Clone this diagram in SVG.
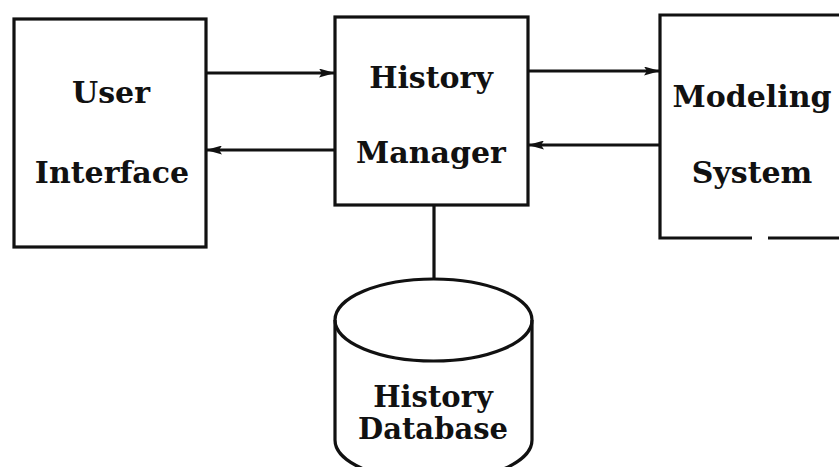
<svg xmlns="http://www.w3.org/2000/svg" width="839" height="467" viewBox="0 0 839 467">
<style>
.box{fill:none;stroke:#111;stroke-width:3.2}
.ln{fill:none;stroke:#111;stroke-width:3.2}
.t{font-family:"DejaVu Serif","Liberation Serif",serif;font-weight:bold;font-size:30px;fill:#111;text-anchor:middle}
.d{font-size:29px}
</style>
<defs>
<marker id="ah" viewBox="0 0 16 9" refX="16" refY="4.5" markerWidth="16" markerHeight="9" markerUnits="userSpaceOnUse" orient="auto">
<path d="M0,0 L16,4.5 L0,9 L3,4.5 Z" fill="#111"/>
</marker>
</defs>
<rect width="839" height="467" fill="#fff"/>
<g id="connectors">
<line class="ln" x1="206" y1="73" x2="335" y2="73" marker-end="url(#ah)"/>
<line class="ln" x1="335" y1="150" x2="206" y2="150" marker-end="url(#ah)"/>
<line class="ln" x1="528" y1="71" x2="660" y2="71" marker-end="url(#ah)"/>
<line class="ln" x1="660" y1="145" x2="528" y2="145" marker-end="url(#ah)"/>
<line class="ln" x1="434" y1="205" x2="434" y2="279"/>
</g>
<g id="user-interface">
<rect class="box" x="14" y="19" width="192" height="228"/>
<text class="t" x="111" y="103">User</text>
<text class="t" x="112" y="183">Interface</text>
</g>
<g id="history-manager">
<rect class="box" x="335" y="17" width="193" height="188"/>
<text class="t" x="431" y="88">History</text>
<text class="t" x="431" y="163">Manager</text>
</g>
<g id="modeling-system">
<path class="box" d="M752,238 L660,238 L660,15 L845,15 M768,238 L845,238"/>
<text class="t" x="752" y="107">Modeling</text>
<text class="t" x="752" y="183">System</text>
</g>
<g id="history-database">
<path class="box" d="M335,320 L335,440 A98,41 0 0 0 532,440 L532,320"/>
<ellipse class="box" cx="433.5" cy="320" rx="98.5" ry="41"/>
<text class="t d" x="433" y="407">History</text>
<text class="t d" x="433" y="439">Database</text>
</g>
</svg>
